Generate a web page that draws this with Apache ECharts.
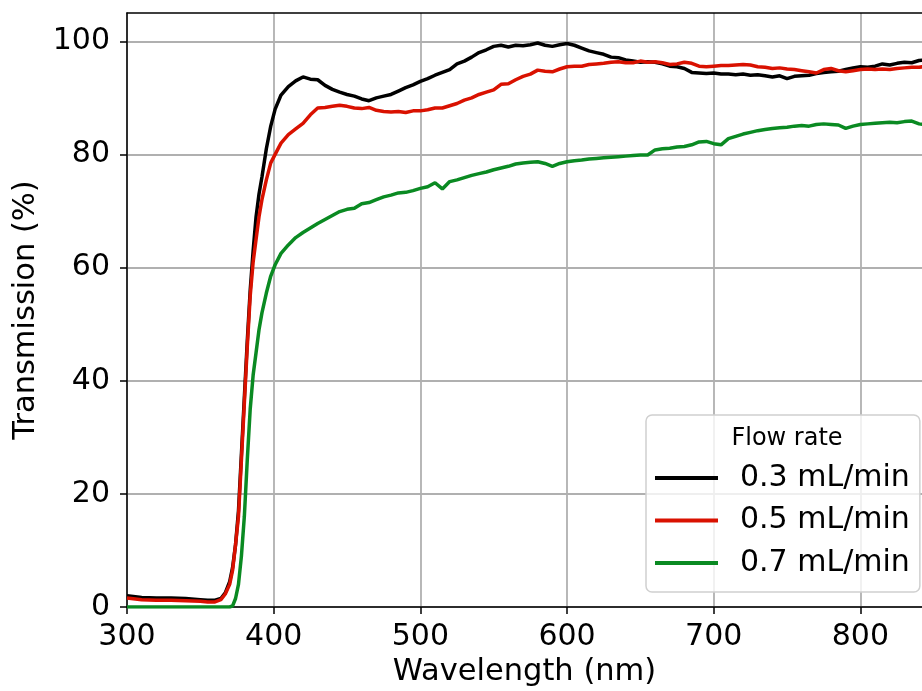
<!DOCTYPE html>
<html>
<head>
<meta charset="utf-8">
<script src="https://cdn.jsdelivr.net/npm/echarts@6/dist/echarts.min.js"></script>
<style>
  html, body { margin: 0; padding: 0; background: #fff; }
  #chart { width: 922px; height: 691px; }
</style>
</head>
<body>
<div id="chart"></div>
<script>
// wavelength grid (nm)
var wavelength = [300, 310, 320, 330, 340, 350, 355, 360, 364, 367, 370, 372, 374, 376, 378, 380, 382, 384, 386, 388,
  390, 392, 395, 398, 401, 405, 410, 415, 420, 425, 430, 435, 440, 445, 450, 455, 460, 465, 470, 475,
  480, 485, 490, 495, 500, 505, 510, 515, 520, 525, 530, 535, 540, 545, 550, 555, 560, 565, 570, 575,
  580, 585, 590, 595, 600, 605, 610, 615, 620, 625, 630, 635, 640, 645, 650, 655, 660, 665, 670, 675,
  680, 685, 690, 695, 700, 705, 710, 715, 720, 725, 730, 735, 740, 745, 750, 755, 760, 765, 770, 775,
  780, 785, 790, 795, 800, 805, 810, 815, 820, 825, 830, 835, 840, 845];

// transmission (%) for each flow rate
var flow03 = [2.0, 1.7, 1.6, 1.6, 1.5, 1.3, 1.2, 1.2, 1.5, 2.5, 4.5, 7, 11, 17, 27, 37, 47, 56, 63, 69,
  73, 76, 81, 85, 88, 90.5, 92, 93, 93.7, 93.3, 93.2, 92.2, 91.5, 91, 90.6, 90.3, 89.8, 89.5, 90, 90.3,
  90.6, 91.2, 91.8, 92.3, 92.9, 93.4, 94, 94.5, 95, 96, 96.5, 97.2, 98, 98.5, 99.1, 99.3, 99.0, 99.3, 99.2, 99.4,
  99.7, 99.3, 99.1, 99.4, 99.6, 99.3, 98.8, 98.3, 98.0, 97.7, 97.2, 97.1, 96.7, 96.5, 96.3, 96.4, 96.3, 96.0, 95.6, 95.5,
  95.2, 94.5, 94.4, 94.3, 94.4, 94.2, 94.2, 94.1, 94.2, 94.0, 94.1, 93.9, 93.7, 93.9, 93.4, 93.8, 93.9, 94.0, 94.3, 94.5,
  94.6, 94.7, 95.0, 95.3, 95.5, 95.4, 95.6, 96.0, 95.8, 96.1, 96.3, 96.2, 96.6, 96.7];

var flow05 = [1.6, 1.3, 1.2, 1.2, 1.1, 1.0, 0.9, 0.9, 1.3, 2.3, 4.0, 6.5, 11, 16, 26, 36, 46, 55, 61, 65,
  69, 72, 75.5, 78.5, 80, 82, 83.5, 84.5, 85.5, 87, 88.2, 88.3, 88.5, 88.7, 88.5, 88.2, 88.1, 88.3, 87.8, 87.6,
  87.5, 87.6, 87.4, 87.7, 87.7, 87.9, 88.2, 88.2, 88.6, 89.0, 89.6, 90, 90.6, 91.0, 91.4, 92.4, 92.5, 93.2, 93.8, 94.2,
  94.9, 94.7, 94.6, 95.1, 95.5, 95.6, 95.6, 95.9, 96.0, 96.1, 96.3, 96.4, 96.2, 96.2, 96.5, 96.3, 96.4, 96.2, 95.9, 96.0,
  96.3, 96.1, 95.6, 95.5, 95.6, 95.7, 95.7, 95.8, 95.9, 95.8, 95.5, 95.4, 95.2, 95.3, 95.1, 95.0, 94.8, 94.6, 94.4, 95.0,
  95.2, 94.8, 94.6, 94.8, 95.0, 95.1, 95.0, 95.1, 95.0, 95.2, 95.3, 95.4, 95.4, 95.6];

var flow07 = [0, 0, 0, 0, 0, 0, 0, 0, 0, 0, 0, 0.2, 1.5, 4, 9, 16, 26, 35, 41, 45,
  49, 52, 55.5, 58.5, 60.5, 62.5, 64, 65.3, 66.2, 67, 67.8, 68.5, 69.2, 69.9, 70.3, 70.5, 71.3, 71.5, 72, 72.5,
  72.8, 73.2, 73.3, 73.6, 74, 74.3, 75, 73.9, 75.2, 75.5, 75.9, 76.3, 76.6, 76.9, 77.3, 77.6, 77.9, 78.3, 78.5, 78.6,
  78.7, 78.4, 77.9, 78.4, 78.7, 78.9, 79.0, 79.2, 79.3, 79.4, 79.5, 79.6, 79.7, 79.8, 79.9, 79.9, 80.8, 81.0, 81.1, 81.3,
  81.4, 81.7, 82.2, 82.3, 81.9, 81.7, 82.8, 83.2, 83.6, 83.9, 84.2, 84.4, 84.6, 84.7, 84.8, 85.0, 85.1, 85.0, 85.3, 85.4,
  85.3, 85.2, 84.6, 85.0, 85.3, 85.4, 85.5, 85.6, 85.7, 85.6, 85.8, 85.9, 85.4, 85.2];

var seriesNames = ['0.3 mL/min', '0.5 mL/min', '0.7 mL/min'];
var xTicks = [300, 400, 500, 600, 700, 800];
var yTicks = [0, 20, 40, 60, 80, 100];

var font = 'DejaVu Sans';

function pairs(vals) {
  return wavelength.map(function (w, i) { return [w, vals[i]]; });
}

var chart = echarts.init(document.getElementById('chart'));

var option = {
  animation: false,
  backgroundColor: '#fff',
  grid: { left: 127, top: 13, right: 0, bottom: 84, outerBoundsMode: 'none', containLabel: false },
  title: {
    text: 'Flow rate',
    left: 782,
    top: 422,
    textAlign: 'center',
    textStyle: { fontFamily: font, fontSize: 24, fontWeight: 'normal', color: '#000' },
    z: 20
  },
  legend: {
    data: seriesNames,
    orient: 'vertical',
    left: 646,
    top: 415,
    padding: [48, 10, 14, 9],
    itemGap: 12.5,
    itemWidth: 63,
    itemHeight: 4,
    icon: 'rect',
    backgroundColor: 'rgba(255,255,255,0.8)',
    borderColor: '#d0d0d0',
    borderWidth: 1.5,
    borderRadius: 6,
    textStyle: { fontFamily: font, fontSize: 30, color: '#000', padding: [0, 0, 0, 17], lineHeight: 30 },
    z: 10
  },
  xAxis: [
    {
      type: 'value',
      min: 300,
      max: 842,
      interval: 100,
      name: 'Wavelength (nm)',
      nameLocation: 'middle',
      nameGap: 49,
      nameTextStyle: { fontFamily: font, fontSize: 30.5, color: '#000' },
      axisLine: { show: true, onZero: false, lineStyle: { color: '#000', width: 1.5 } },
      axisTick: { show: true, length: 7, inside: false, lineStyle: { color: '#000', width: 1.5 }, customValues: xTicks },
      axisLabel: { fontFamily: font, fontSize: 30, color: '#000', margin: 15, customValues: xTicks },
      splitLine: { show: true, lineStyle: { color: '#b0b0b0', width: 1.8 } }
    },
    {
      type: 'value',
      position: 'top',
      min: 300,
      max: 842,
      axisLine: { show: true, onZero: false, lineStyle: { color: '#000', width: 1.5 } },
      axisTick: { show: false },
      axisLabel: { show: false },
      splitLine: { show: false }
    }
  ],
  yAxis: {
    type: 'value',
    min: 0,
    max: 105,
    interval: 20,
    name: 'Transmission (%)',
    nameLocation: 'middle',
    nameGap: 82,
    nameTextStyle: { fontFamily: font, fontSize: 30.5, color: '#000' },
    axisLine: { show: true, onZero: false, lineStyle: { color: '#000', width: 1.5 } },
    axisTick: { show: true, length: 7, inside: false, lineStyle: { color: '#000', width: 1.5 }, customValues: yTicks },
    axisLabel: { fontFamily: font, fontSize: 30, color: '#000', margin: 17, customValues: yTicks },
    splitLine: { show: true, lineStyle: { color: '#b0b0b0', width: 1.8 } }
  },
  series: [
    {
      name: seriesNames[0],
      type: 'line',
      data: pairs(flow03),
      showSymbol: false,
      lineStyle: { color: '#000000', width: 3.5 },
      itemStyle: { color: '#000000' },
      z: 2
    },
    {
      name: seriesNames[1],
      type: 'line',
      data: pairs(flow05),
      showSymbol: false,
      lineStyle: { color: '#d91100', width: 3.5 },
      itemStyle: { color: '#d91100' },
      z: 3
    },
    {
      name: seriesNames[2],
      type: 'line',
      data: pairs(flow07),
      showSymbol: false,
      lineStyle: { color: '#0a8a22', width: 3.5 },
      itemStyle: { color: '#0a8a22' },
      z: 4
    }
  ]
};

chart.setOption(option);
</script>
</body>
</html>
